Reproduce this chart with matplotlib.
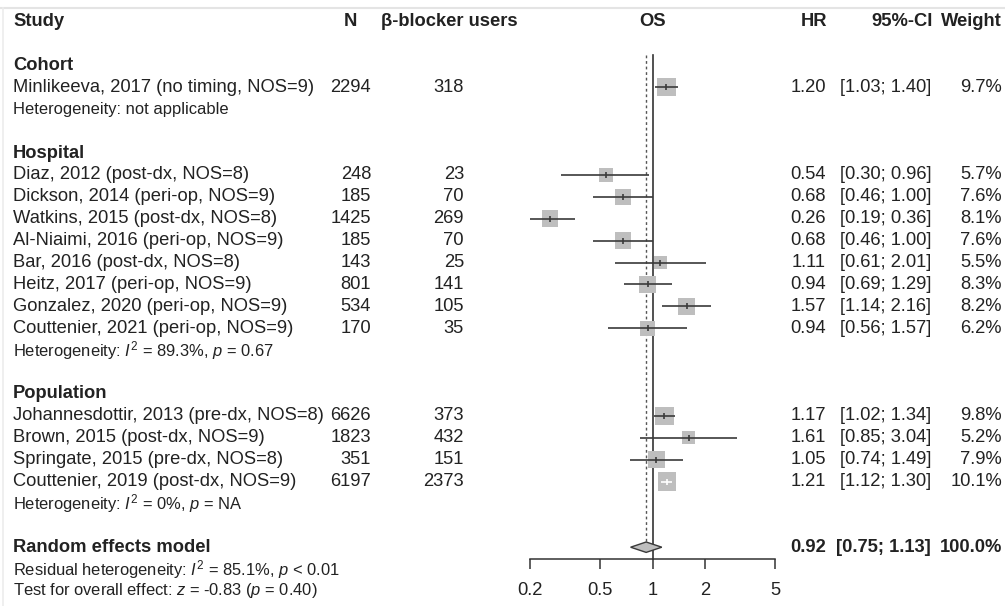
import matplotlib
matplotlib.use("Agg")
import matplotlib.pyplot as plt
from matplotlib.patches import Polygon
import numpy as np

plt.rcParams['font.family'] = ['Liberation Sans', 'DejaVu Sans']
plt.rcParams['mathtext.fontset'] = 'custom'
plt.rcParams['mathtext.rm'] = 'Liberation Sans'
plt.rcParams['mathtext.it'] = 'Liberation Sans:italic'
plt.rcParams['mathtext.bf'] = 'Liberation Sans:bold'

# ---------------- data ----------------
groups = ["Cohort", "Hospital", "Population"]
studies = [
    ["Minlikeeva, 2017 (no timing, NOS=9)"],
    ["Diaz, 2012 (post-dx, NOS=8)", "Dickson, 2014 (peri-op, NOS=9)",
     "Watkins, 2015 (post-dx, NOS=8)", "Al-Niaimi, 2016 (peri-op, NOS=9)",
     "Bar, 2016 (post-dx, NOS=8)", "Heitz, 2017 (peri-op, NOS=9)",
     "Gonzalez, 2020 (peri-op, NOS=9)", "Couttenier, 2021 (peri-op, NOS=9)"],
    ["Johannesdottir, 2013 (pre-dx, NOS=8)", "Brown, 2015 (post-dx, NOS=9)",
     "Springate, 2015 (pre-dx, NOS=8)", "Couttenier, 2019 (post-dx, NOS=9)"],
]
n_total = [[2294], [248, 185, 1425, 185, 143, 801, 534, 170], [6626, 1823, 351, 6197]]
n_bb = [[318], [23, 70, 269, 70, 25, 141, 105, 35], [373, 432, 151, 2373]]
hr = [[1.20], [0.54, 0.68, 0.26, 0.68, 1.11, 0.94, 1.57, 0.94], [1.17, 1.61, 1.05, 1.21]]
lo = [[1.03], [0.30, 0.46, 0.19, 0.46, 0.61, 0.69, 1.14, 0.56], [1.02, 0.85, 0.74, 1.12]]
hi = [[1.40], [0.96, 1.00, 0.36, 1.00, 2.01, 1.29, 2.16, 1.57], [1.34, 3.04, 1.49, 1.30]]
weight = [[9.7], [5.7, 7.6, 8.1, 7.6, 5.5, 8.3, 8.2, 6.2], [9.8, 5.2, 7.9, 10.1]]
heterogeneity = ["Heterogeneity: not applicable",
                 "Heterogeneity: $I^2$ = 89.3%, $p$ = 0.67",
                 "Heterogeneity: $I^2$ = 0%, $p$ = NA"]
overall_hr, overall_lo, overall_hi, overall_w = 0.92, 0.75, 1.13, 100.0
overall_label = "Random effects model"
overall_notes = ["Residual heterogeneity: $I^2$ = 85.1%, $p$ < 0.01",
                 "Test for overall effect: $z$ = -0.83 ($p$ = 0.40)"]
x_ticks = [0.2, 0.5, 1, 2, 5]
headers = ["Study", "N", "\u03b2-blocker users", "OS", "HR", "95%-CI", "Weight"]

# ---------------- layout ----------------
W, H = 1005, 606
fig = plt.figure(figsize=(W / 100, H / 100), dpi=100)
fig.patch.set_facecolor("white")
tx = fig.add_axes([0, 0, 1, 1])
tx.set_xlim(0, W)
tx.set_ylim(H, 0)
tx.axis("off")

X0, X1 = 530, 775  # pixel span of forest axis
fx = fig.add_axes([X0 / W, 0, (X1 - X0) / W, 1])
fx.set_xscale("log")
fx.set_xlim(0.2, 5)
fx.set_ylim(H, 0)
fx.patch.set_alpha(0)
for s in ["top", "left", "right"]:
    fx.spines[s].set_visible(False)
AXIS_Y = 559.3
fx.spines["bottom"].set_position(("data", AXIS_Y))
fx.spines["bottom"].set_color("#333333")
fx.spines["bottom"].set_linewidth(1.1)
fx.set_yticks([])
fx.set_xticks(x_ticks)
fx.set_xticklabels([("%g" % t) for t in x_ticks])
fx.minorticks_off()
fx.tick_params(axis="x", which="both", direction="out", length=7.2, width=1.1,
               color="#333333", labelsize=13.2, labelcolor="#222222", pad=9.5)

row0, step = 21.6, 21.9
def ry(r):
    return row0 + r * step

TXT = "#222222"
FS, FS2 = 13.2, 11.9
xN, xB, xHR, xCI, xW = 371, 464, 826, 931, 1002

# headers
tx.text(13, ry(0), headers[0], ha="left", va="center", fontsize=FS, weight="bold", color=TXT)
tx.text(357, ry(0), headers[1], ha="right", va="center", fontsize=FS, weight="bold", color=TXT)
tx.text(381, ry(0), headers[2], ha="left", va="center", fontsize=FS, weight="bold", color=TXT)
fx.text(1, ry(0), headers[3], ha="center", va="center", fontsize=FS, weight="bold", color=TXT)
tx.text(827, ry(0), headers[4], ha="right", va="center", fontsize=FS, weight="bold", color=TXT)
tx.text(933, ry(0), headers[5], ha="right", va="center", fontsize=FS, weight="bold", color=TXT)
tx.text(1002, ry(0), headers[6], ha="right", va="center", fontsize=FS, weight="bold", color=TXT)

SQ = "#BEBEBE"
LN = "#3a3a3a"

def study_row(r, name, n, nb, h, l, u, w):
    y = ry(r)
    tx.text(13, y, name, ha="left", va="center", fontsize=FS, color=TXT)
    tx.text(xN, y, str(n), ha="right", va="center", fontsize=FS, color=TXT)
    tx.text(xB, y, str(nb), ha="right", va="center", fontsize=FS, color=TXT)
    tx.text(xHR, y, "%.2f" % h, ha="right", va="center", fontsize=FS, color=TXT)
    tx.text(xCI, y, "[%.2f; %.2f]" % (l, u), ha="right", va="center", fontsize=FS, color=TXT)
    tx.text(xW, y, "%.1f%%" % w, ha="right", va="center", fontsize=FS, color=TXT)
    side = 5.9 * np.sqrt(w)  # px
    fx.scatter([h], [y], marker="s", s=(side * 0.72) ** 2, color=SQ, edgecolors="none", zorder=2)
    # CI line white if inside the square
    xs = fx.transData.transform([[l, y], [u, y], [h, y]])[:, 0]
    inside = (xs[2] - xs[0] < side / 2) and (xs[1] - xs[2] < side / 2)
    col = "white" if inside else LN
    fx.plot([l, u], [y, y], color=col, lw=1.2, zorder=3, solid_capstyle="butt")
    fx.plot([h], [y], marker="|", ms=4, mew=1.2, color=col, zorder=4)

r = 2
for g, grp in enumerate(groups):
    tx.text(13, ry(r), grp, ha="left", va="center", fontsize=FS, weight="bold", color=TXT)
    r += 1
    for i, name in enumerate(studies[g]):
        study_row(r, name, n_total[g][i], n_bb[g][i], hr[g][i], lo[g][i], hi[g][i], weight[g][i])
        r += 1
    tx.text(13, ry(r), heterogeneity[g], ha="left", va="center", fontsize=FS2, color=TXT)
    r += 2

# overall
yo = ry(r)
tx.text(13, yo, overall_label, ha="left", va="center", fontsize=FS, weight="bold", color=TXT)
tx.text(xHR, yo, "%.2f" % overall_hr, ha="right", va="center", fontsize=FS, weight="bold", color=TXT)
tx.text(xCI, yo, "[%.2f; %.2f]" % (overall_lo, overall_hi), ha="right", va="center",
        fontsize=FS, weight="bold", color=TXT)
tx.text(xW, yo, "%.1f%%" % overall_w, ha="right", va="center", fontsize=FS, weight="bold", color=TXT)
for k, note in enumerate(overall_notes):
    tx.text(13, ry(r + 1 + k), note, ha="left", va="center", fontsize=FS2, color=TXT)

dh = 5.2
diamond = Polygon([[overall_lo, yo], [overall_hr, yo - dh], [overall_hi, yo], [overall_hr, yo + dh]],
                  closed=True, facecolor=SQ, edgecolor=LN, lw=1.0, zorder=3)
fx.add_patch(diamond)

# reference lines
top_y = 55
fx.plot([1, 1], [top_y, AXIS_Y], color="#333333", lw=1.2, zorder=1)
fx.plot([overall_hr, overall_hr], [top_y, yo - dh], color="#555555", lw=1.0,
        linestyle=(0, (2, 2)), zorder=1)

# faint frame of the screenshot
tx.plot([0, W], [8, 8], color="#e4e4e4", lw=1.5)
tx.plot([3, 3], [8, H], color="#ececec", lw=1.2)

fig.savefig("out.png", dpi=100, facecolor="white")
